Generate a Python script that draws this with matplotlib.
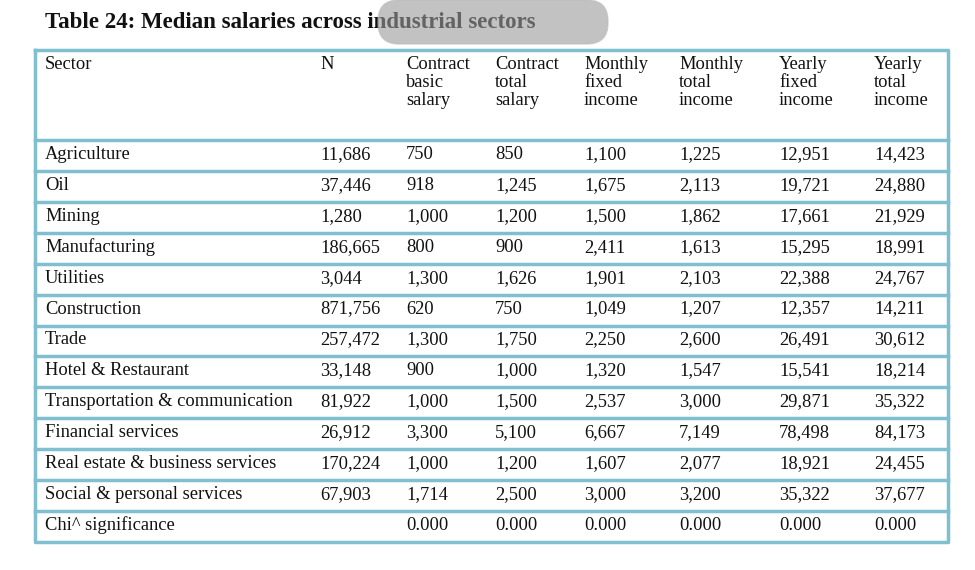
import matplotlib
matplotlib.use("Agg")
import matplotlib.pyplot as plt
from matplotlib.patches import FancyBboxPatch

title = "Table 24: Median salaries across industrial sectors"
headers = ["Sector", "N", "Contract\nbasic\nsalary", "Contract\ntotal\nsalary", "Monthly\nfixed\nincome",
           "Monthly\ntotal\nincome", "Yearly\nfixed\nincome", "Yearly\ntotal\nincome"]
sectors = ["Agriculture", "Oil", "Mining", "Manufacturing", "Utilities", "Construction", "Trade",
           "Hotel & Restaurant", "Transportation & communication", "Financial services",
           "Real estate & business services", "Social & personal services", "Chi^ significance"]
n_vals = ["11,686", "37,446", "1,280", "186,665", "3,044", "871,756", "257,472", "33,148",
          "81,922", "26,912", "170,224", "67,903", ""]
contract_basic = ["750", "918", "1,000", "800", "1,300", "620", "1,300", "900", "1,000", "3,300", "1,000", "1,714", "0.000"]
contract_total = ["850", "1,245", "1,200", "900", "1,626", "750", "1,750", "1,000", "1,500", "5,100", "1,200", "2,500", "0.000"]
monthly_fixed = ["1,100", "1,675", "1,500", "2,411", "1,901", "1,049", "2,250", "1,320", "2,537", "6,667", "1,607", "3,000", "0.000"]
monthly_total = ["1,225", "2,113", "1,862", "1,613", "2,103", "1,207", "2,600", "1,547", "3,000", "7,149", "2,077", "3,200", "0.000"]
yearly_fixed = ["12,951", "19,721", "17,661", "15,295", "22,388", "12,357", "26,491", "15,541", "29,871", "78,498", "18,921", "35,322", "0.000"]
yearly_total = ["14,423", "24,880", "21,929", "18,991", "24,767", "14,211", "30,612", "18,214", "35,322", "84,173", "24,455", "37,677", "0.000"]

cols = [sectors, n_vals, contract_basic, contract_total, monthly_fixed, monthly_total, yearly_fixed, yearly_total]
col_x = [45, 320, 406, 495, 584, 679, 779, 874]

fig = plt.figure(figsize=(9.75, 5.7), dpi=100)
ax = fig.add_axes([0, 0, 1, 1])
ax.set_xlim(0, 975); ax.set_ylim(570, 0); ax.axis("off")
plt.rcParams['font.family'] = ['Liberation Serif', 'DejaVu Serif']

ax.text(45, 22, title, fontsize=16.5, fontweight="bold", va="center", ha="left", color="#111111")

line_c = "#7fbfd0"
left, right, top, bottom = 35, 948, 50, 542
header_bottom = 140
nrows = len(sectors)
rh = (bottom - header_bottom) / nrows
ax.plot([left, right, right, left, left], [top, top, bottom, bottom, top], color=line_c, lw=2.5)
for i in range(nrows):
    y = header_bottom + i * rh
    ax.plot([left, right], [y, y], color=line_c, lw=2.5)

for x, h in zip(col_x, headers):
    ax.text(x, 56, h, fontsize=13.3, va="top", ha="left", linespacing=1.08, color="#111111")

for ci, (x, col) in enumerate(zip(col_x, cols)):
    for ri, v in enumerate(col):
        ax.text(x, header_bottom + ri * rh + rh / 2 - 1, v, fontsize=13.3, va="center", ha="left", color="#111111")

# PDF viewer overlay toolbar
box = FancyBboxPatch((378, 0), 230, 44, boxstyle="round,pad=0,rounding_size=21",
                     facecolor="#9a9a9a", edgecolor="#bbbbbb", alpha=0.6, zorder=5)
ax.add_patch(box)

fig.savefig("out.png", dpi=100)
